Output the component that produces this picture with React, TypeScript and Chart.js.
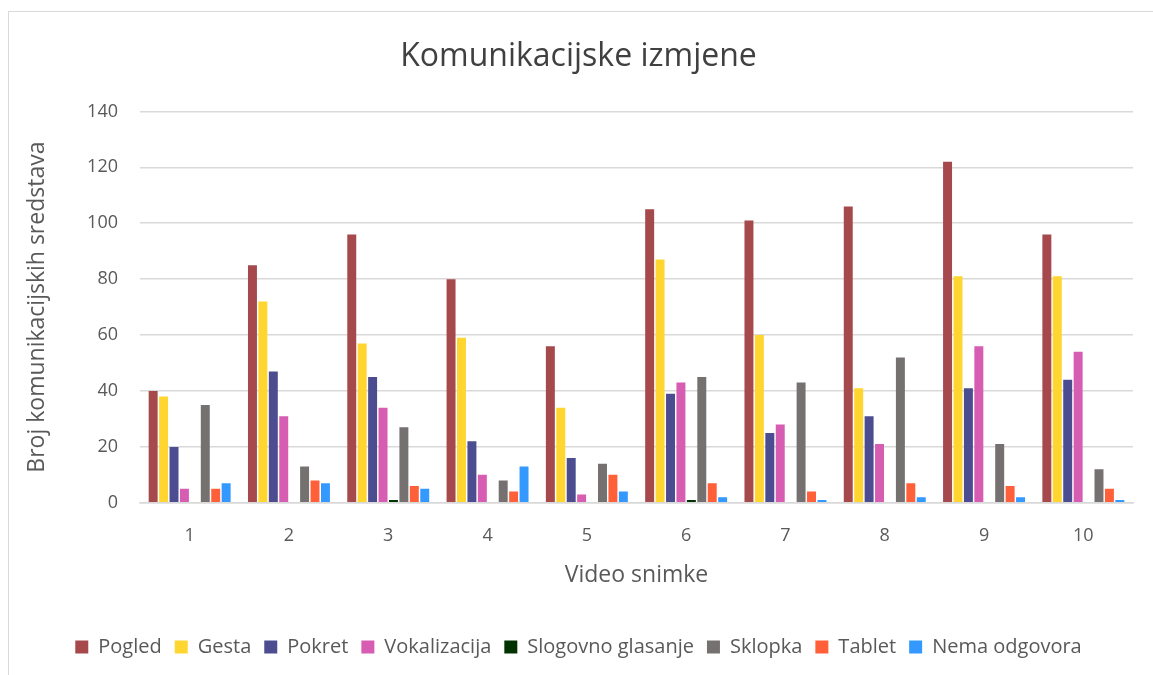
import React, { useEffect, useRef } from "react";
import { Chart, registerables } from "chart.js";

Chart.register(...registerables);

const categories = ["1", "2", "3", "4", "5", "6", "7", "8", "9", "10"];
const seriesNames = ["Pogled", "Gesta", "Pokret", "Vokalizacija", "Slogovno glasanje", "Sklopka", "Tablet", "Nema odgovora"];
const pogled = [40, 85, 96, 80, 56, 105, 101, 106, 122, 96];
const gesta = [38, 72, 57, 59, 34, 87, 60, 41, 81, 81];
const pokret = [20, 47, 45, 22, 16, 39, 25, 31, 41, 44];
const vokalizacija = [5, 31, 34, 10, 3, 43, 28, 21, 56, 54];
const slogovno = [0, 0, 1, 0, 0, 1, 0, 0, 0, 0];
const sklopka = [35, 13, 27, 8, 14, 45, 43, 52, 21, 12];
const tablet = [5, 8, 6, 4, 10, 7, 4, 7, 6, 5];
const nemaOdgovora = [7, 7, 5, 13, 4, 2, 1, 2, 2, 1];
const colors = ["#A5494C", "#FFD530", "#4C4C91", "#D65DB1", "#003300", "#757171", "#FF5F39", "#3399FF"];
const yTicks = [0, 20, 40, 60, 80, 100, 120, 140];

const FONT = "'Open Sans', sans-serif";

export default function App() {
  const ref = useRef<HTMLCanvasElement | null>(null);
  useEffect(() => {
    if (!ref.current) return;
    const values = [pogled, gesta, pokret, vokalizacija, slogovno, sklopka, tablet, nemaOdgovora];
    const chart = new Chart(ref.current, {
      type: "bar",
      data: {
        labels: categories,
        datasets: values.map((v, i) => ({
          label: seriesNames[i],
          data: v,
          backgroundColor: colors[i],
          borderWidth: 0,
          categoryPercentage: 0.84,
          barPercentage: 0.86,
        })),
      },
      options: {
        animation: false,
        responsive: false,
        maintainAspectRatio: false,
        layout: { padding: { left: 24, right: 20, top: 38, bottom: 8 } },
        plugins: {
          tooltip: { enabled: false },
          title: {
            display: true,
            text: "Komunikacijske izmjene",
            color: "#404040",
            font: { family: FONT, size: 32, weight: "normal" },
            padding: { top: 0, bottom: 35 },
          },
          legend: {
            position: "bottom",
            labels: {
              color: "#595959",
              font: { family: FONT, size: 20 },
              boxWidth: 13,
              boxHeight: 13,
              padding: 13,
            },
          },
        },
        scales: {
          x: {
            grid: { display: false },
            border: { color: "#D9D9D9", width: 1.5 },
            ticks: { color: "#595959", font: { family: FONT, size: 18 }, padding: 14 },
            title: {
              display: true,
              text: "Video snimke",
              color: "#595959",
              font: { family: FONT, size: 23 },
              padding: { top: 1, bottom: 35 },
            },
          },
          y: {
            min: 0,
            max: 140,
            afterBuildTicks: (s: any) => {
              s.ticks = yTicks.map((v) => ({ value: v }));
            },
            afterFit: (s: any) => {
              s.width = 116;
            },
            grid: { color: "#D9D9D9", lineWidth: 1.5, drawTicks: false },
            border: { display: false },
            ticks: { color: "#595959", font: { family: FONT, size: 18 }, padding: 22 },
            title: {
              display: true,
              text: "Broj komunikacijskih sredstava",
              color: "#595959",
              font: { family: FONT, size: 23 },
              padding: { top: 0, bottom: 0 },
            },
          },
        },
      },
    });
    return () => chart.destroy();
  }, []);
  return (
    <div style={{ position: "fixed", left: 0, top: 0, width: 1153, height: 675, background: "#fff" }}>
      <div
        style={{
          position: "absolute",
          left: 8,
          top: 11,
          width: 1160,
          height: 680,
          borderLeft: "1.5px solid #D9D9D9",
          borderTop: "1.5px solid #D9D9D9",
        }}
      />
      <canvas ref={ref} width={1153} height={675} style={{ position: "absolute", left: 0, top: 0 }} />
    </div>
  );
}
